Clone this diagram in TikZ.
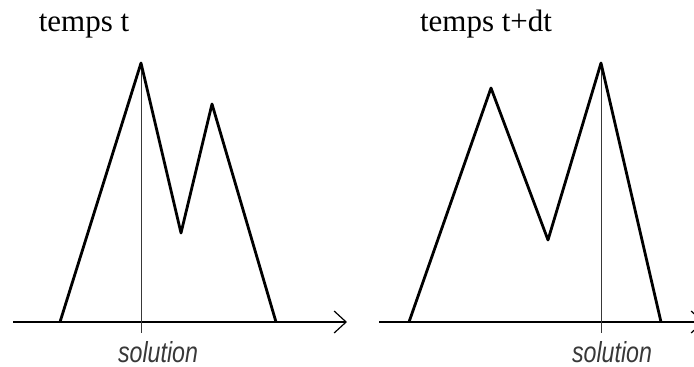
\documentclass[tikz,border=0pt]{standalone}
\usepackage{fontspec}
\setmainfont{Liberation Serif}
\newfontfamily\solfont[FakeStretch=0.8]{Liberation Sans}
\usetikzlibrary{arrows.meta}

\begin{document}
\begin{tikzpicture}[x=1pt, y=-1pt,
    axe/.style={line width=1.3pt, -{Straight Barb[length=12pt, width=22pt, line width=1.2pt]}},
    courbe/.style={line width=2.8pt, line join=round},
    repere/.style={line width=1pt, black!78},
    titre/.style={font=\fontsize{31}{36}\selectfont, anchor=base},
    sol/.style={font=\solfont\itshape\fontsize{29}{33}\selectfont, text=black!78, anchor=base}
  ]
    \useasboundingbox (0,0) rectangle (694,367);
    % temps t
    \node[titre] (titre1) at (84,31) {temps t};
    \coordinate (o1) at (13,322);
    \coordinate (x1) at (347,322);
    \draw[axe] (o1) -- (x1);
    \draw[repere] (141,63) -- (141,333);
    \draw[courbe] (60,322) -- (141,63) -- (181,233) -- (212,104) -- (276,322);
    \node[sol] (sol1) at (158,362) {solution};
    % temps t+dt
    \node[titre] (titre2) at (486,31) {temps t+dt};
    \coordinate (o2) at (379,322);
    \coordinate (x2) at (704,322);
    \draw[axe] (o2) -- (x2);
    \draw[repere] (601,63) -- (601,333);
    \draw[courbe] (409,322) -- (491,88) -- (548,240) -- (601,63) -- (661,322);
    \node[sol] (sol2) at (612,362) {solution};
  \end{tikzpicture}
\end{document}
